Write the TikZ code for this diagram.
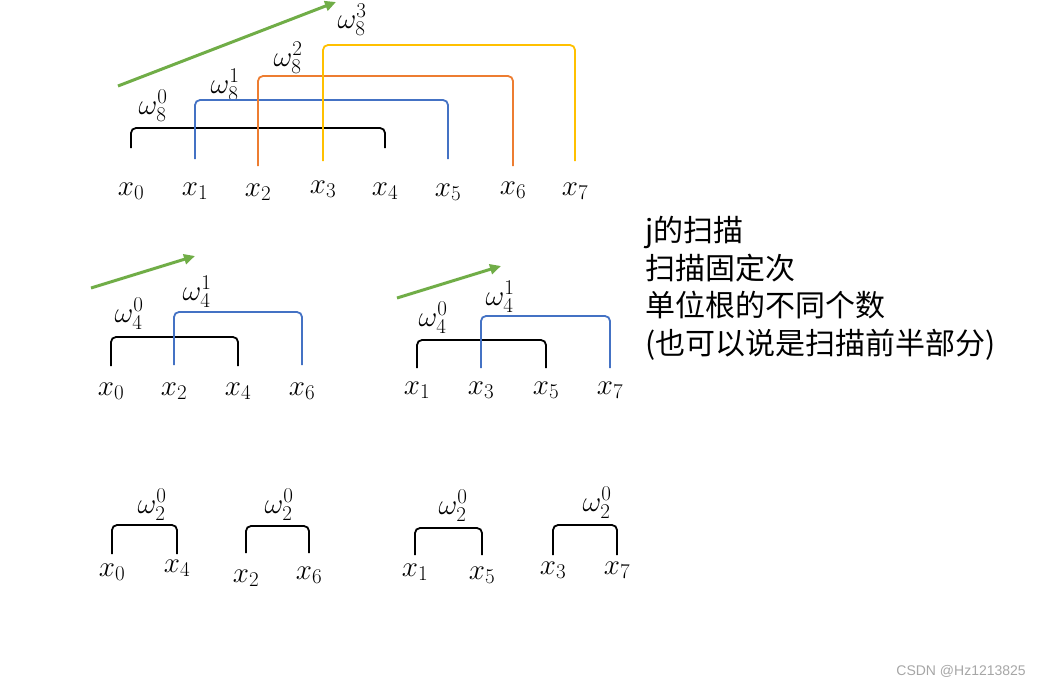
\documentclass[tikz,border=0pt]{standalone}
\usepackage{fix-cm}
\usepackage{fontspec}
\newfontfamily\cjkfont{Noto Sans CJK SC}
\newfontfamily\markfont{Liberation Sans}
\DeclareMathSizes{29}{29}{21}{15}
\usetikzlibrary{arrows.meta}
\definecolor{offblue}{HTML}{4472C4}
\definecolor{offorange}{HTML}{ED7D31}
\definecolor{offyellow}{HTML}{FFC000}
\definecolor{offgreen}{HTML}{70AD47}

\begin{document}
\begin{tikzpicture}[x=1pt, y=-1pt,
    every node/.style={inner sep=0pt, font=\fontsize{29}{35}\selectfont},
    brk/.style={line width=1.8pt, rounded corners=5pt},
    scan/.style={line width=3pt, offgreen, -{Triangle[length=11pt,width=10pt]}}]
    \useasboundingbox (0,0) rectangle (1040,685);

    % --- eight points ---
    \node (Tx0) at (131,191) {$x_0$};
    \node (Tx1) at (195,191) {$x_1$};
    \node (Tx2) at (258,192) {$x_2$};
    \node (Tx3) at (323,189) {$x_3$};
    \node (Tx4) at (385,191) {$x_4$};
    \node (Tx5) at (448,192) {$x_5$};
    \node (Tx6) at (513,190) {$x_6$};
    \node (Tx7) at (575,191) {$x_7$};
    \node (Tw0) at (153,106) {$\omega_8^0$};
    \node (Tw1) at (225,85) {$\omega_8^1$};
    \node (Tw2) at (288,58) {$\omega_8^2$};
    \node (Tw3) at (352,20) {$\omega_8^3$};
    \draw[brk] (Tx0 |- 0,148) -- (Tx0 |- 0,128) -- (Tx4 |- 0,128) -- (Tx4 |- 0,148);
    \draw[brk, offblue] (Tx1 |- 0,159) -- (Tx1 |- 0,100) -- (Tx5 |- 0,100) -- (Tx5 |- 0,159);
    \draw[brk, offorange] (Tx2 |- 0,166) -- (Tx2 |- 0,76) -- (Tx6 |- 0,76) -- (Tx6 |- 0,166);
    \draw[brk, offyellow] (Tx3 |- 0,161) -- (Tx3 |- 0,45) -- (Tx7 |- 0,45) -- (Tx7 |- 0,161);
    \coordinate (Ts) at (118,86);
    \coordinate (Te) at (336,2);
    \draw[scan] (Ts) -- (Te);

    % --- even half ---
    \node (Lx0) at (111,391) {$x_0$};
    \node (Lx2) at (174,391) {$x_2$};
    \node (Lx4) at (238,391) {$x_4$};
    \node (Lx6) at (302,391) {$x_6$};
    \node (Lw0) at (129,314) {$\omega_4^0$};
    \node (Lw1) at (197,292) {$\omega_4^1$};
    \draw[brk] (Lx0 |- 0,366) -- (Lx0 |- 0,337) -- (Lx4 |- 0,337) -- (Lx4 |- 0,366);
    \draw[brk, offblue] (Lx2 |- 0,365) -- (Lx2 |- 0,312) -- (Lx6 |- 0,312) -- (Lx6 |- 0,365);
    \coordinate (Ls) at (91,288);
    \coordinate (Le) at (195,256);
    \draw[scan] (Ls) -- (Le);

    % --- odd half ---
    \node (Rx1) at (417,390) {$x_1$};
    \node (Rx3) at (481,390) {$x_3$};
    \node (Rx5) at (546,390) {$x_5$};
    \node (Rx7) at (610,390) {$x_7$};
    \node (Rw0) at (433,318) {$\omega_4^0$};
    \node (Rw1) at (500,297) {$\omega_4^1$};
    \draw[brk] (Rx1 |- 0,368) -- (Rx1 |- 0,340) -- (Rx5 |- 0,340) -- (Rx5 |- 0,368);
    \draw[brk, offblue] (Rx3 |- 0,368) -- (Rx3 |- 0,316) -- (Rx7 |- 0,316) -- (Rx7 |- 0,368);
    \coordinate (Rs) at (397,298);
    \coordinate (Re) at (501,266);
    \draw[scan] (Rs) -- (Re);

    % --- pairs ---
    \node (Bx0) at (112,572) {$x_0$};
    \node (Bx4) at (177,568) {$x_4$};
    \node (Bx2) at (246,578) {$x_2$};
    \node (Bx6) at (309,575) {$x_6$};
    \node (Bx1) at (415,572) {$x_1$};
    \node (Bx5) at (482,575) {$x_5$};
    \node (Bx3) at (553,570) {$x_3$};
    \node (Bx7) at (617,570) {$x_7$};
    \node (Bw04) at (152,505) {$\omega_2^0$};
    \node (Bw26) at (279,505) {$\omega_2^0$};
    \node (Bw15) at (453,506) {$\omega_2^0$};
    \node (Bw37) at (597,503) {$\omega_2^0$};
    \draw[brk] (Bx0 |- 0,554) -- (Bx0 |- 0,525) -- (Bx4 |- 0,525) -- (Bx4 |- 0,554);
    \draw[brk] (Bx2 |- 0,553) -- (Bx2 |- 0,526) -- (Bx6 |- 0,526) -- (Bx6 |- 0,553);
    \draw[brk] (Bx1 |- 0,555) -- (Bx1 |- 0,528) -- (Bx5 |- 0,528) -- (Bx5 |- 0,555);
    \draw[brk] (Bx3 |- 0,555) -- (Bx3 |- 0,525) -- (Bx7 |- 0,525) -- (Bx7 |- 0,555);

    % --- note ---
    \node[font=\cjkfont\fontsize{30}{37.7}\selectfont, align=left, anchor=north west] (note) at (645,216)
        {j的扫描\\扫描固定次\\单位根的不同个数\\(也可以说是扫描前半部分)};
    \node[font=\markfont\fontsize{14}{16}\selectfont, text=gray!70, anchor=east] (mark) at (1026,671) {CSDN @Hz1213825};
\end{tikzpicture}
\end{document}
